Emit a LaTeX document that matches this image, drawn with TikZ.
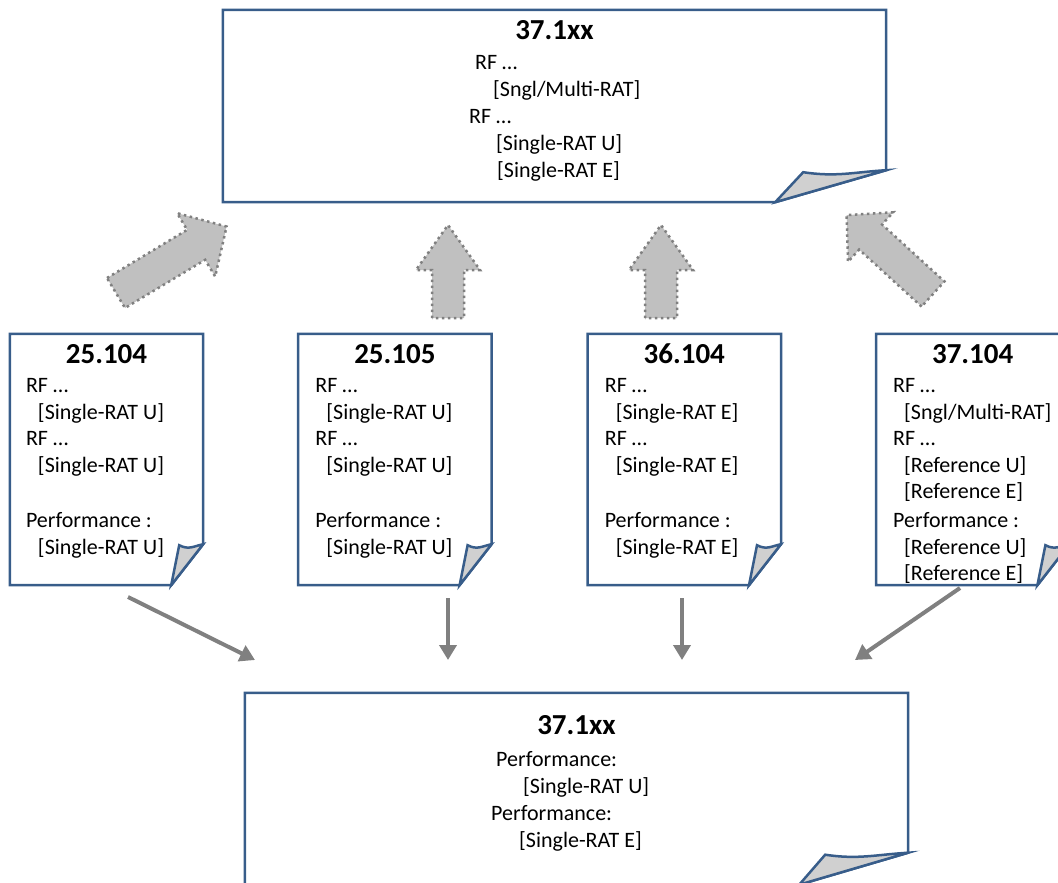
\documentclass[tikz,border=0pt]{standalone}
\usepackage{fontspec}
\setmainfont{Carlito}
\usepackage{tikz}
\usetikzlibrary{positioning, arrows.meta, calc}
\usepackage{xcolor}

\definecolor{pageblue}{HTML}{385D8A}
\definecolor{foldgray}{HTML}{D0D0D0}
\definecolor{arrowgray}{HTML}{808080}
\definecolor{blockgray}{HTML}{C0C0C0}

% page outline with folded corner: node, fold width, fold height, curl dx, curl dy
\newcommand{\docpage}[5]{%
  \draw[page] (#1.north west) -- (#1.north east) -- ($(#1.south east)+(0,-#3)$)
    -- ($(#1.south east)+(-#2,0)$) -- (#1.south west) -- cycle;
  \draw[page, fill=foldgray] ($(#1.south east)+(-#2,0)$) -- ($(#1.south east)+(-#2+#4,#5)$)
    .. controls +(0.3*#2,5) and +(-0.3*#2,2) .. ($(#1.south east)+(0,-#3)$) -- cycle;}

% wide block arrow: tail, angle, length, shaft half width, head half width, head length
\newcommand{\blockarrow}[6]{%
  \begin{scope}[shift={#1}, rotate=#2]
    \draw[block] (0,-#4) -- (#3-#6,-#4) -- (#3-#6,-#5) -- (#3,0)
      -- (#3-#6,#5) -- (#3-#6,#4) -- (0,#4) -- cycle;
  \end{scope}}

\begin{document}
\begin{tikzpicture}[
    x=1pt, y=-1pt,
    doc/.style={rectangle, minimum width=193pt, minimum height=251pt, inner sep=0pt},
    page/.style={draw=pageblue, line width=2.5pt},
    title/.style={font=\fontsize{29}{34}\selectfont\bfseries, inner sep=0pt},
    body/.style={font=\fontsize{22}{26.5}\selectfont, align=left, inner sep=0pt, anchor=base west},
    block/.style={draw=arrowgray, fill=blockgray, line width=2.5pt, dash pattern=on 2.5pt off 3.5pt},
    conn/.style={draw=arrowgray, line width=4pt, -{Triangle[length=15pt, width=17pt]}}
]
\useasboundingbox (0,0) rectangle (1058,883);

% Target spec on top
\node (top) [doc, minimum width=663pt, minimum height=192pt] at (554.5,106) {};
\docpage{top}{111}{32}{28}{-30}
\node (toptitle) [title] at ($(top.north)+(0,20)$) {37.1xx};
% (base = last line)
\node (topbody) [body, font=\fontsize{22}{27}\selectfont] at (469,177) {%
    \hspace*{6pt}RF …\\
    \hspace*{24pt}[Sngl/Multi-RAT]\\
    RF …\\
    \hspace*{27pt}[Single-RAT U]\\
    \hspace*{28pt}[Single-RAT E]};

% Source specs
\node (b1) [doc] at (106.5,459.5) {};
\node (b2) [doc, right=95pt of b1] {};
\node (b3) [doc, right=96pt of b2] {};
\node (b4) [doc, right=95pt of b3] {};
\foreach \b in {b1,b2,b3,b4}{\docpage{\b}{32}{41}{8}{-40}}

\node (t1) [title] at ($(b1.north)+(0,20)$) {25.104};
\node (t2) [title] at ($(b2.north)+(0,20)$) {25.105};
\node (t3) [title] at ($(b3.north)+(0,20)$) {36.104};
\node (t4) [title] at ($(b4.north)+(0,20)$) {37.104};

\node (body1) [body] at ($(b1.north west)+(16,220.5)$) {%
    RF …\\
    \hspace*{12pt}[Single-RAT U]\\
    RF …\\
    \hspace*{12pt}[Single-RAT U]\\[29pt]
    Performance :\\
    \hspace*{12pt}[Single-RAT U]};
\node (body2) [body] at ($(b2.north west)+(17,220.5)$) {%
    RF …\\
    \hspace*{11pt}[Single-RAT U]\\
    RF …\\
    \hspace*{11pt}[Single-RAT U]\\[29pt]
    Performance :\\
    \hspace*{11pt}[Single-RAT U]};
\node (body3) [body] at ($(b3.north west)+(17,220.5)$) {%
    RF …\\
    \hspace*{11pt}[Single-RAT E]\\
    RF …\\
    \hspace*{11pt}[Single-RAT E]\\[29pt]
    Performance :\\
    \hspace*{11pt}[Single-RAT E]};
\node (body4) [body] at ($(b4.north west)+(17,247)$) {%
    RF …\\
    \hspace*{11pt}[Sngl/Multi-RAT]\\
    RF …\\
    \hspace*{11pt}[Reference U]\\
    \hspace*{11pt}[Reference E]\\[2.5pt]
    Performance :\\
    \hspace*{11pt}[Reference U]\\
    \hspace*{11pt}[Reference E]};

% Target spec at the bottom
\node (bot) [doc, minimum width=663pt, minimum height=191.5pt] at (576.5,788.75) {};
\docpage{bot}{109}{32}{26}{-30}
\node (bottitle) [title] at ($(bot.north)+(0,32)$) {37.1xx};
\node (botbody) [body, font=\fontsize{22}{27}\selectfont] at (491,847) {%
    \hspace*{5pt}Performance:\\
    \hspace*{32pt}[Single-RAT U]\\
    Performance:\\
    \hspace*{28pt}[Single-RAT E]};

% Block arrows up to the top spec
\blockarrow{(116,293)}{31}{129}{17.5}{37}{35.5}
\blockarrow{(448,318)}{90}{93}{16}{32}{45}
\blockarrow{(661,318)}{90}{93}{16}{32}{45}
\blockarrow{(933,294)}{137.6}{117}{17}{33.5}{32.5}

% Arrows down to the bottom spec
\coordinate (s1) at (128,597);
\coordinate (e1) at (255,660);
\coordinate (s2) at (448,598);
\coordinate (e2) at (448,660);
\coordinate (s3) at (682,598);
\coordinate (e3) at (682,660);
\coordinate (s4) at (960,588);
\coordinate (e4) at (855,660);
\draw [conn] (s1) -- (e1);
\draw [conn] (s2) -- (e2);
\draw [conn] (s3) -- (e3);
\draw [conn] (s4) -- (e4);

\end{tikzpicture}
\end{document}
